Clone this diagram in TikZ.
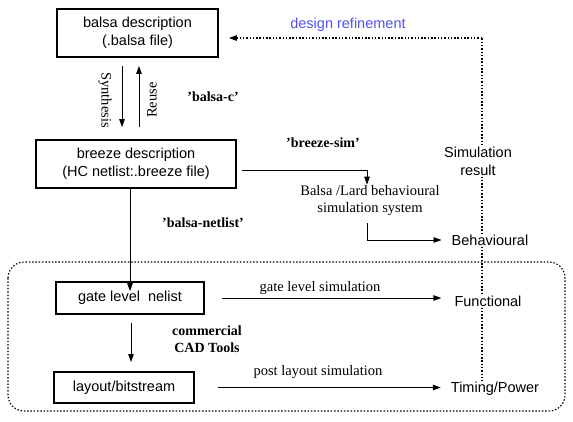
\documentclass[tikz,border=0pt]{standalone}
\usepackage{fontspec}
\setmainfont{Liberation Serif}
\setsansfont{Liberation Sans}
\usetikzlibrary{arrows.meta,calc}
\definecolor{refblue}{RGB}{80,80,255}
\begin{document}
\begin{tikzpicture}[x=1pt,y=-1pt,
  box/.style={draw,line width=1.8pt,inner sep=0pt,align=center,font=\sffamily\fontsize{14.5}{18}\selectfont},
  sans/.style={inner sep=1pt,align=center,font=\sffamily\fontsize{14.5}{18}\selectfont},
  serif/.style={inner sep=1pt,align=center,font=\rmfamily\fontsize{14.5}{17}\selectfont},
  bserif/.style={inner sep=1pt,align=center,font=\rmfamily\bfseries\fontsize{14}{17}\selectfont},
  arr/.style={line width=0.8pt,-{Triangle[length=8pt,width=5.5pt]}},
  ln/.style={line width=0.8pt},
  dot/.style={line width=1.1pt,dash pattern=on 1.5pt off 1.8pt},
]
\useasboundingbox (0,0) rectangle (573,421);
% boxes
\node[box,minimum width=161pt,minimum height=48pt] (balsa) at (137.5,33) {balsa description\\(.balsa file)};
\node[box,minimum width=200pt,minimum height=48pt] (breeze) at (136,164) {breeze description\\(HC netlist:.breeze file)};
\node[box,minimum width=148pt,minimum height=32pt] (gate) at (130,298) {gate level\ \ nelist};
\node[box,minimum width=140pt,minimum height=31pt] (layout) at (124,387.5) {layout/bitstream};
% text nodes
\node[serif] (bsim) at (370,201) {Balsa /Lard behavioural\\simulation system};
\node[sans] (behav) at (490,240) {Behavioural};
\node[sans] (func) at (488,301) {Functional};
\node[sans] (timing) at (495,389) {Timing/Power};
\node[sans] (simres) at (478,161) {Simulation\\result};
\node[sans,text=refblue] (refine) at (348,25) {design refinement};
% labels
\node[serif,rotate=-90] (synth) at (105,100) {Synthesis};
\node[serif,rotate=90] (reuse) at (152,100) {Reuse};
\node[bserif] (bc) at (213,97) {'balsa-c'};
\node[bserif] (bs) at (323,143) {'breeze-sim'};
\node[bserif] (bn) at (203,223) {'balsa-netlist'};
\node[bserif] (cad) at (207,339.5) {commercial\\CAD Tools};
\node[serif] (gls) at (320,288) {gate level simulation};
\node[serif] (pls) at (318,372) {post layout simulation};
% coordinates
\coordinate (c1) at (367,223);
\coordinate (c2) at (367,240);
\coordinate (r1) at (482,130);
\coordinate (r2) at (482,38);
% dashed region
\draw[dot,rounded corners=16pt] (8,262) rectangle (565,411);
% connectors
\draw[arr] ([xshift=-15.5pt,yshift=-8pt]balsa.south) -- ([xshift=-14pt,yshift=12pt]breeze.north);
\draw[arr] ([xshift=3pt,yshift=12pt]breeze.north) -- ([xshift=1.5pt,yshift=-8pt]balsa.south);
\draw[arr] ([xshift=5pt,yshift=-6pt]breeze.east) -| ([xshift=-3pt]bsim.north);
\draw[ln] (c1) -- (c2);
\draw[arr] (c2) -- ([xshift=-9pt]behav.west |- c2);
\draw[arr] ([yshift=2pt]breeze.south -| 130,0) -- ([yshift=-10pt]gate.north -| 130,0);
\draw[arr] ([xshift=1pt,yshift=-8pt]gate.south) -- ([xshift=7pt,yshift=9pt]layout.north);
\draw[arr] ([xshift=17pt]gate.east) -- ([xshift=-12pt]func.west |- gate.east);
\draw[arr] ([xshift=23pt]layout.east) -- ([xshift=-9pt]timing.west |- layout.east);
\draw[dot] (simres.north -| r1) -- (r2);
\draw[dot,-{Triangle[length=8pt,width=5.5pt]}] (r2) -- ([xshift=10pt]balsa.east |- r2);
\draw[dot] (simres.south -| r1) -- (behav.north -| r1);
\draw[dot] (behav.south -| r1) -- (func.north -| r1);
\draw[dot] (func.south -| r1) -- (timing.north -| r1);
\end{tikzpicture}
\end{document}
